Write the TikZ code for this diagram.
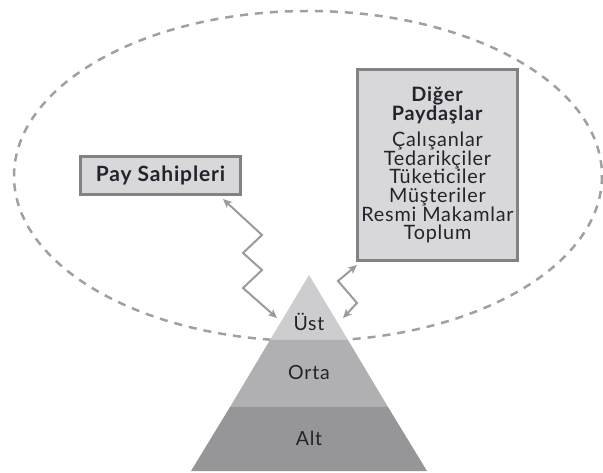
\documentclass[tikz,border=0pt]{standalone}
\usepackage{fontspec}
\setmainfont{Lato}[LetterSpace=4]
\usetikzlibrary{arrows.meta,calc}
\definecolor{txt}{RGB}{35,35,45}
\definecolor{dashc}{RGB}{160,160,162}
\definecolor{arrc}{RGB}{155,155,158}
\definecolor{boxfill}{RGB}{216,216,218}
\definecolor{boxline}{RGB}{130,130,132}
\definecolor{ustc}{RGB}{205,205,207}
\definecolor{ortac}{RGB}{176,176,178}
\definecolor{altc}{RGB}{150,150,152}
\tikzset{
  boxnode/.style={draw=boxline, line width=3pt, fill=boxfill, text=txt, inner sep=0pt},
  lvl/.style={text=txt, font=\fontsize{19.5}{20}\selectfont},
  arr/.style={draw=arrc, line width=2pt, {Stealth[length=9pt,width=8pt,inset=2.5pt]}-{Stealth[length=9pt,width=8pt,inset=2.5pt]}},
  ell/.style={draw=dashc, line width=2.5pt, dash pattern=on 8pt off 7pt}
}
\begin{document}
\begin{tikzpicture}[x=1pt,y=-1pt]
\useasboundingbox (0,0) rectangle (603,473);
\draw[ell] (308,176) ellipse [x radius=294, y radius=165];
% pyramid
\fill[ustc] (309,275) -- (348,340) -- (270,340) -- cycle;
\fill[ortac] (270,340) -- (348,340) -- (388,407) -- (230,407) -- cycle;
\fill[altc] (230,407) -- (388,407) -- (427,471) -- (191,471) -- cycle;
\node[lvl] (ust) at (309,322) {Üst};
\node[lvl] (orta) at (309,373) {Orta};
\node[lvl] (alt) at (309,438) {Alt};
% boxes
\node[boxnode, minimum width=160pt, minimum height=38pt, font=\bfseries\fontsize{21}{22}\selectfont] (pay) at (160.5,175.5) {Pay Sahipleri};
\node[boxnode, minimum width=160pt, minimum height=191pt, align=center, font=\fontsize{19.8}{18.6}\selectfont] (dig) at (437.5,165)
  {\textbf{Diğer}\\\textbf{Paydaşlar}\\[8pt]Çalışanlar\\Tedarikçiler\\Tüketiciler\\Müşteriler\\Resmi Makamlar\\Toplum};
% arrows
\draw[arr] ($(pay.south east)+(-19,3)$) -- (262,235) -- (243,253) -- (262,270) -- (243,288) -- ($(ust)+(-32,-4)$);
\draw[arr] ($(dig.south west)+(1,3)$) -- (338,281) -- (357,303) -- ($(ust)+(34,-4)$);
\end{tikzpicture}
\end{document}
